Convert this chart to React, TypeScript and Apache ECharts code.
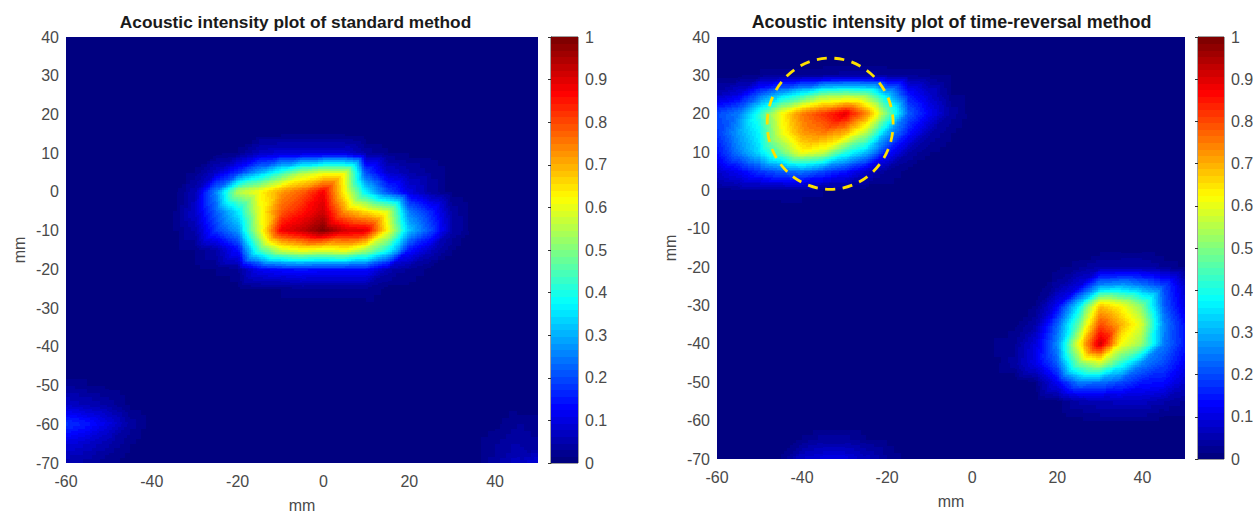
import React, { useEffect, useRef } from "react";
import * as echarts from "echarts";

const titleLeft = "Acoustic intensity plot of standard method";
const titleRight = "Acoustic intensity plot of time-reversal method";
const axisUnit = "mm";

// Sample positions of the two maps, in mm.
const xSamples = [-60, -55, -50, -45, -40, -35, -30, -25, -20, -15, -10, -5, 0, 5, 10, 15, 20, 25, 30, 35, 40, 45, 50];
const ySamples = [40, 35, 30, 25, 20, 15, 10, 5, 0, -5, -10, -15, -20, -25, -30, -35, -40, -45, -50, -55, -60, -65, -70];

// Intensity in hundredths; one row per ySamples entry, one column per xSamples entry.
const standardMethod = [
  [0,0,0,0,0,0,0,0,0,0,0,0,0,0,0,0,0,0,0,0,0,0,0],
  [0,0,0,0,0,0,0,0,0,0,0,0,0,0,0,0,0,0,0,0,0,0,0],
  [0,0,0,0,0,0,0,0,0,0,0,0,0,0,0,0,0,0,0,0,0,0,0],
  [0,0,0,0,0,0,0,0,0,0,0,0,0,0,0,0,0,0,0,0,0,0,0],
  [0,0,0,0,0,0,0,0,0,0,1,1,1,0,0,0,0,0,0,0,0,0,0],
  [0,0,0,0,0,0,0,0,0,1,1,1,1,1,0,0,0,0,0,0,0,0,0],
  [0,0,0,0,0,0,0,1,2,7,9,9,9,9,4,2,1,1,0,0,0,0,0],
  [0,0,0,0,0,1,2,8,18,30,42,54,60,60,20,8,5,3,1,0,0,0,0],
  [0,0,0,0,0,1,6,26,55,62,72,78,88,62,36,20,10,4,1,0,0,0,0],
  [0,0,0,0,0,1,8,22,36,60,78,85,92,72,65,58,25,16,4,1,0,0,0],
  [0,0,0,0,0,1,5,18,28,58,88,93,100,92,90,62,32,20,5,1,0,0,0],
  [0,0,0,0,0,1,2,5,14,44,58,62,60,62,54,40,15,7,2,0,0,0,0],
  [0,0,0,0,0,0,1,2,3,12,14,15,14,14,14,6,3,1,0,0,0,0,0],
  [0,0,0,0,0,0,0,0,1,2,2,3,3,3,3,1,1,0,0,0,0,0,0],
  [0,0,0,0,0,0,0,0,0,1,1,1,1,1,1,0,0,0,0,0,0,0,0],
  [0,0,0,0,0,0,0,0,0,0,0,0,0,0,0,0,0,0,0,0,0,0,0],
  [0,0,0,0,0,0,0,0,0,0,0,0,0,0,0,0,0,0,0,0,0,0,0],
  [0,0,0,0,0,0,0,0,0,0,0,0,0,0,0,0,0,0,0,0,0,0,0],
  [3,2,1,0,0,0,0,0,0,0,0,0,0,0,0,0,0,0,0,0,0,0,0],
  [8,6,4,1,0,0,0,0,0,0,0,0,0,0,0,0,0,0,0,0,0,1,1],
  [18,15,10,4,1,0,0,0,0,0,0,0,0,0,0,0,0,0,0,0,1,3,2],
  [10,8,5,2,0,0,0,0,0,0,0,0,0,0,0,0,0,0,0,1,3,5,3],
  [5,4,2,1,0,0,0,0,0,0,0,0,0,0,0,0,0,0,0,1,4,7,10],
];

const timeReversalMethod = [
  [0,0,0,0,0,0,0,0,0,0,0,0,0,0,0,0,0,0,0,0,0,0,0],
  [0,0,0,0,0,0,0,0,0,0,0,0,0,0,0,0,0,0,0,0,0,0,0],
  [1,1,2,3,3,3,4,4,3,3,2,1,0,0,0,0,0,0,0,0,0,0,0],
  [6,10,22,32,40,50,52,50,33,15,8,2,1,0,0,0,0,0,0,0,0,0,0],
  [20,25,42,62,75,82,90,75,50,22,12,4,1,0,0,0,0,0,0,0,0,0,0],
  [18,28,38,60,72,75,70,55,30,15,5,2,0,0,0,0,0,0,0,0,0,0,0],
  [14,25,35,48,62,58,42,32,15,5,2,1,0,0,0,0,0,0,0,0,0,0,0],
  [8,12,18,22,25,20,15,8,3,1,0,0,0,0,0,0,0,0,0,0,0,0,0],
  [2,3,3,3,3,2,2,1,1,0,0,0,0,0,0,0,0,0,0,0,0,0,0],
  [1,1,1,1,0,0,0,0,0,0,0,0,0,0,0,0,0,0,0,0,0,0,0],
  [0,0,0,0,0,0,0,0,0,0,0,0,0,0,0,0,0,0,0,0,0,0,0],
  [0,0,0,0,0,0,0,0,0,0,0,0,0,0,0,0,0,0,0,1,1,0,0],
  [0,0,0,0,0,0,0,0,0,0,0,0,0,0,0,0,1,3,5,5,5,3,1],
  [0,0,0,0,0,0,0,0,0,0,0,0,0,0,0,0,4,10,28,30,26,20,8],
  [0,0,0,0,0,0,0,0,0,0,0,0,0,0,0,2,12,36,68,62,50,22,10],
  [0,0,0,0,0,0,0,0,0,0,0,0,0,0,1,5,22,48,80,70,58,26,14],
  [0,0,0,0,0,0,0,0,0,0,0,0,0,2,3,10,26,62,92,62,52,25,15],
  [0,0,0,0,0,0,0,0,0,0,0,0,0,1,4,11,22,50,58,42,26,20,12],
  [0,0,0,0,0,0,0,0,0,0,0,0,0,0,0,2,12,25,24,20,15,14,8],
  [0,0,0,0,0,0,0,0,0,0,0,0,0,0,0,0,1,5,6,7,7,5,3],
  [0,0,0,0,0,0,0,0,0,0,0,0,0,0,0,0,0,1,2,2,2,1,1],
  [0,0,0,0,2,4,4,2,1,0,0,0,0,0,0,0,0,0,0,0,0,0,0],
  [0,0,0,2,8,10,10,7,3,1,0,0,0,0,0,0,0,0,0,0,0,0,0],
];

// Dashed annotation: centre x, centre y, radius x, radius y, in mm.
const highlightCircle = [[-33.4, 17.4, 14.8, 17.1]];

const colorSteps = 64;
const jetStops: [number, number[]][] = [
  [0, [0, 0, 128]],
  [0.125, [0, 0, 255]],
  [0.375, [0, 255, 255]],
  [0.625, [255, 255, 0]],
  [0.875, [255, 0, 0]],
  [1, [128, 0, 0]],
];

function jet(value: number): string {
  const quant = Math.min(colorSteps - 1, Math.floor(Math.max(0, Math.min(1, value)) * colorSteps)) / (colorSteps - 1);
  for (let i = 1; i < jetStops.length; i++) {
    const [p0, c0] = jetStops[i - 1];
    const [p1, c1] = jetStops[i];
    if (quant <= p1) {
      const t = (quant - p0) / (p1 - p0);
      const c = c0.map((a, k) => Math.round(a + (c1[k] - a) * t));
      return `rgb(${c[0]},${c[1]},${c[2]})`;
    }
  }
  return "rgb(128,0,0)";
}

// One record per mesh cell: lower-left corner, then the four corner values.
function meshCells(rows: number[][]) {
  const cells: number[][] = [];
  for (let r = 0; r + 1 < ySamples.length; r++) {
    for (let c = 0; c + 1 < xSamples.length; c++) {
      cells.push([
        xSamples[c], ySamples[r + 1],
        xSamples[c + 1], ySamples[r],
        rows[r + 1][c] / 100, rows[r + 1][c + 1] / 100,
        rows[r][c] / 100, rows[r][c + 1] / 100,
      ]);
    }
  }
  return cells;
}

// Draws one cell with MATLAB-style "shading interp": two triangles split along the rising diagonal.
function renderCell(_: any, api: any) {
  const x0 = api.value(0), y0 = api.value(1), x1 = api.value(2), y1 = api.value(3);
  const f00 = api.value(4), f10 = api.value(5), f01 = api.value(6), f11 = api.value(7);
  const a = api.coord([x0, y0]);
  const b = api.coord([x1, y1]);
  const range = Math.max(f00, f10, f01, f11) - Math.min(f00, f10, f01, f11);
  const n = Math.max(1, Math.min(11, Math.ceil(range / 0.012)));
  const children: any[] = [];
  for (let i = 0; i < n; i++) {
    const l = Math.round(a[0] + ((b[0] - a[0]) * i) / n);
    const r = Math.round(a[0] + ((b[0] - a[0]) * (i + 1)) / n);
    if (r <= l) continue;
    for (let j = 0; j < n; j++) {
      const bottom = Math.round(a[1] + ((b[1] - a[1]) * j) / n);
      const top = Math.round(a[1] + ((b[1] - a[1]) * (j + 1)) / n);
      if (bottom <= top) continue;
      const u = (i + 0.5) / n;
      const v = (j + 0.5) / n;
      const f = v < u ? f00 + u * (f10 - f00) + v * (f11 - f10) : f00 + v * (f01 - f00) + u * (f11 - f01);
      children.push({
        type: "rect",
        shape: { x: l, y: top, width: r - l, height: bottom - top },
        style: { fill: jet(f) },
        silent: true,
      });
    }
  }
  return { type: "group", children };
}

function renderLevel(_: any, api: any) {
  const a = api.coord([0, api.value(0)]);
  const b = api.coord([1, api.value(1)]);
  const top = Math.floor(b[1]);
  return {
    type: "rect",
    shape: { x: a[0], y: top, width: b[0] - a[0], height: Math.ceil(a[1]) - top },
    style: { fill: jet((api.value(0) + api.value(1)) / 2) },
    silent: true,
  };
}

function renderHighlight(_: any, api: any) {
  const c = api.coord([api.value(0), api.value(1)]);
  const e = api.coord([api.value(0) + api.value(2), api.value(1) + api.value(3)]);
  return {
    type: "ellipse",
    shape: { cx: c[0], cy: c[1], rx: Math.abs(e[0] - c[0]), ry: Math.abs(e[1] - c[1]) },
    style: { fill: "none", stroke: "#FFE000", lineWidth: 2.8, lineDash: [10, 7.5] },
    silent: true,
  };
}

const colorbarLevels: number[][] = [];
for (let i = 0; i < colorSteps; i++) colorbarLevels.push([i / colorSteps, (i + 1) / colorSteps]);

const FONT = "Liberation Sans";
const TICK_COLOR = "#4a4a4a";
const tickStyle = { color: TICK_COLOR, fontFamily: FONT, fontSize: 16 };

function mapAxes(gridIndex: number) {
  return {
    x: {
      type: "value", gridIndex, min: -60, max: 50, interval: 20,
      name: axisUnit, nameLocation: "middle", nameGap: 34,
      nameTextStyle: tickStyle,
      splitLine: { show: false }, axisLine: { show: false }, axisTick: { show: false },
      axisLabel: { ...tickStyle, margin: 10, showMaxLabel: false },
    },
    y: {
      type: "value", gridIndex, min: -70, max: 40, interval: 10,
      name: axisUnit, nameLocation: "middle", nameGap: 39,
      nameTextStyle: tickStyle,
      splitLine: { show: false }, axisLine: { show: false }, axisTick: { show: false },
      axisLabel: { ...tickStyle, margin: 7 },
    },
  };
}

function barAxes(gridIndex: number) {
  return {
    x: { type: "value", gridIndex, min: 0, max: 1, show: false },
    y: {
      type: "value", gridIndex, min: 0, max: 1, interval: 0.1, position: "right",
      splitLine: { show: false },
      axisLine: { show: true, lineStyle: { color: "#404040", width: 1 } },
      axisTick: { show: true, inside: true, length: 3, lineStyle: { color: "#303030" } },
      axisLabel: { ...tickStyle, margin: 7 },
    },
  };
}

function buildOption() {
  const m0 = mapAxes(0), m1 = mapAxes(1), b0 = barAxes(2), b1 = barAxes(3);
  const cellSeries = (rows: number[][], index: number) => ({
    type: "custom", xAxisIndex: index, yAxisIndex: index, renderItem: renderCell,
    data: meshCells(rows), encode: { x: [0, 2], y: [1, 3] }, silent: true, clip: true,
  });
  const barSeries = (index: number) => ({
    type: "custom", xAxisIndex: index, yAxisIndex: index, renderItem: renderLevel,
    data: colorbarLevels, encode: { y: [0, 1] }, silent: true,
  });
  return {
    animation: false,
    backgroundColor: "#ffffff",
    title: [
      { text: titleLeft, left: 290.5, top: 8, textAlign: "center", textStyle: { fontFamily: FONT, fontSize: 17.3, fontWeight: "bold", color: "#1a1a1a" } },
      { text: titleRight, left: 946.5, top: 8, textAlign: "center", textStyle: { fontFamily: FONT, fontSize: 17.9, fontWeight: "bold", color: "#1a1a1a" } },
    ],
    grid: [
      { left: 66, top: 37, width: 472, height: 426, outerBoundsMode: "none" },
      { left: 717, top: 37, width: 468, height: 422, outerBoundsMode: "none" },
      { left: 551, top: 37, width: 27, height: 426, outerBoundsMode: "none", show: true, borderColor: "#404040", borderWidth: 1, backgroundColor: "transparent" },
      { left: 1198, top: 37, width: 26, height: 422, outerBoundsMode: "none", show: true, borderColor: "#404040", borderWidth: 1, backgroundColor: "transparent" },
    ],
    xAxis: [m0.x, m1.x, b0.x, b1.x],
    yAxis: [m0.y, m1.y, b0.y, b1.y],
    series: [
      cellSeries(standardMethod, 0),
      cellSeries(timeReversalMethod, 1),
      barSeries(2),
      barSeries(3),
      {
        type: "custom", xAxisIndex: 1, yAxisIndex: 1, renderItem: renderHighlight,
        data: highlightCircle, encode: { x: 0, y: 1 }, silent: true, z: 10,
      },
    ],
  };
}

export default function App() {
  const ref = useRef<HTMLDivElement>(null);
  useEffect(() => {
    if (!ref.current) return;
    const chart = echarts.init(ref.current, undefined, { renderer: "svg" });
    chart.setOption(buildOption() as any);
    return () => chart.dispose();
  }, []);
  return <div ref={ref} style={{ position: "absolute", left: 0, top: 0, width: 1253, height: 513 }} />;
}
